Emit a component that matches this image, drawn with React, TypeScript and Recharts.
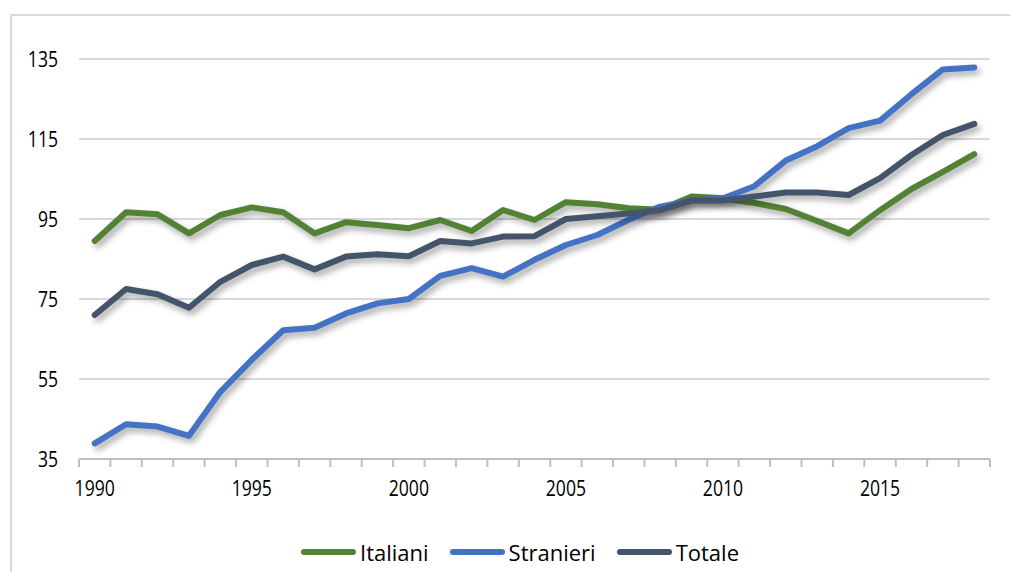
import React from "react";
import { LineChart, Line, XAxis, YAxis, CartesianGrid, Legend } from "recharts";

const years = [1990, 1991, 1992, 1993, 1994, 1995, 1996, 1997, 1998, 1999, 2000, 2001, 2002, 2003, 2004, 2005, 2006, 2007, 2008, 2009, 2010, 2011, 2012, 2013, 2014, 2015, 2016, 2017, 2018];
const italiani = [89.5, 96.7, 96.2, 91.4, 96, 97.9, 96.7, 91.4, 94.2, 93.5, 92.7, 94.75, 92, 97.25, 94.75, 99.2, 98.7, 97.7, 97.3, 100.6, 100.2, 99, 97.5, 94.5, 91.4, 97.2, 102.5, 106.8, 111.2];
const stranieri = [38.9, 43.7, 43.1, 40.8, 51.8, 59.8, 67.2, 67.8, 71.4, 73.9, 75, 80.8, 82.7, 80.6, 84.8, 88.5, 91, 94.8, 98.1, 99.6, 100.2, 103.2, 109.6, 113.2, 117.7, 119.6, 126.2, 132.4, 132.9];
const totale = [71, 77.5, 76.2, 72.8, 79.3, 83.5, 85.6, 82.4, 85.6, 86.2, 85.7, 89.5, 88.9, 90.6, 90.7, 95, 95.7, 96.4, 97.2, 99.6, 99.6, 100.6, 101.6, 101.6, 101, 105.2, 111, 116, 118.8];

const yTicks = [35, 55, 75, 95, 115, 135];
const xLabelTicks = [1990, 1995, 2000, 2005, 2010, 2015];
const xBoundaryTicks = [...years.map((y) => y - 0.5), years[years.length - 1] + 0.5];

const seriesNames = ["Italiani", "Stranieri", "Totale"];
const seriesColors = ["#548235", "#4472C4", "#44546A"];

const data = years.map((year, i) => ({
  year,
  Italiani: italiani[i],
  Stranieri: stranieri[i],
  Totale: totale[i],
}));

const FONT = '"Open Sans", "Noto Sans", sans-serif';

const NarrowTick = (props: any) => {
  const { x, y, payload, textAnchor, orientation } = props;
  const dy = orientation === "bottom" ? "0.71em" : "0.355em";
  return (
    <text
      transform={`translate(${x},${y}) scale(0.8,1)`}
      x={0}
      y={0}
      dy={dy}
      textAnchor={textAnchor}
      fontSize={22}
      fontFamily={FONT}
      fill="#000"
    >
      {payload.value}
    </text>
  );
};

const LegendContent = () => (
  <div style={{ display: "flex", justifyContent: "center", alignItems: "center", height: 40, fontFamily: FONT }}>
    {seriesNames.map((name, i) => (
      <div key={name} style={{ display: "flex", alignItems: "center", marginRight: i < seriesNames.length - 1 ? 21 : 0 }}>
        <div style={{ width: 55, height: 6, borderRadius: 3, background: seriesColors[i], marginRight: 4 }} />
        <span style={{ fontSize: 22, letterSpacing: 0, color: "#000" }}>{name}</span>
      </div>
    ))}
  </div>
);

export default function App() {
  return (
    <div style={{ position: "absolute", left: 0, top: 0, width: 1010, height: 572, background: "#fff", overflow: "hidden" }}>
      <style>{`.recharts-line-curve { filter: drop-shadow(3px 4px 3px rgba(0,0,0,0.35)); }`}</style>
      <div style={{ position: "absolute", left: 10, top: 14, width: 1100, height: 700, borderTop: "2px solid #d9d9d9", borderLeft: "2px solid #d9d9d9" }} />
      <div style={{ position: "absolute", left: 0, top: 0 }}>
        <LineChart width={1010} height={572} data={data} margin={{ top: 59, right: 20, bottom: 0, left: 0 }}>
          <CartesianGrid horizontal vertical={false} stroke="#d9d9d9" strokeWidth={2} />
          <XAxis
            xAxisId="axisA"
            dataKey="year"
            type="number"
            domain={[1989.5, 2018.5]}
            ticks={xBoundaryTicks}
            interval={0}
            tick={{ fontSize: 1, fill: "transparent" }}
            tickFormatter={() => ""}
            tickSize={8}
            height={1}
            axisLine={{ stroke: "#bfbfbf", strokeWidth: 2 }}
            tickLine={{ stroke: "#bfbfbf", strokeWidth: 2 }}
          />
          <XAxis
            xAxisId="axisB"
            dataKey="year"
            type="number"
            domain={[1989.5, 2018.5]}
            ticks={xLabelTicks}
            interval={0}
            tickSize={0}
            tickMargin={20}
            height={72}
            axisLine={false}
            tickLine={false}
            tick={<NarrowTick />}
          />
          <YAxis
            domain={[35, 135]}
            ticks={yTicks}
            interval={0}
            width={79}
            axisLine={false}
            tickLine={false}
            tickSize={0}
            tickMargin={21}
            tick={<NarrowTick />}
          />
          <Legend verticalAlign="bottom" height={40} wrapperStyle={{ left: 30, width: 980 }} content={() => <LegendContent />} />
          {seriesNames.map((name, i) => (
            <Line
              key={name}
              xAxisId="axisB"
              type="linear"
              dataKey={name}
              stroke={seriesColors[i]}
              strokeWidth={6}
              strokeLinecap="round"
              strokeLinejoin="round"
              dot={false}
              activeDot={false}
              isAnimationActive={false}
            />
          ))}
        </LineChart>
      </div>
    </div>
  );
}
